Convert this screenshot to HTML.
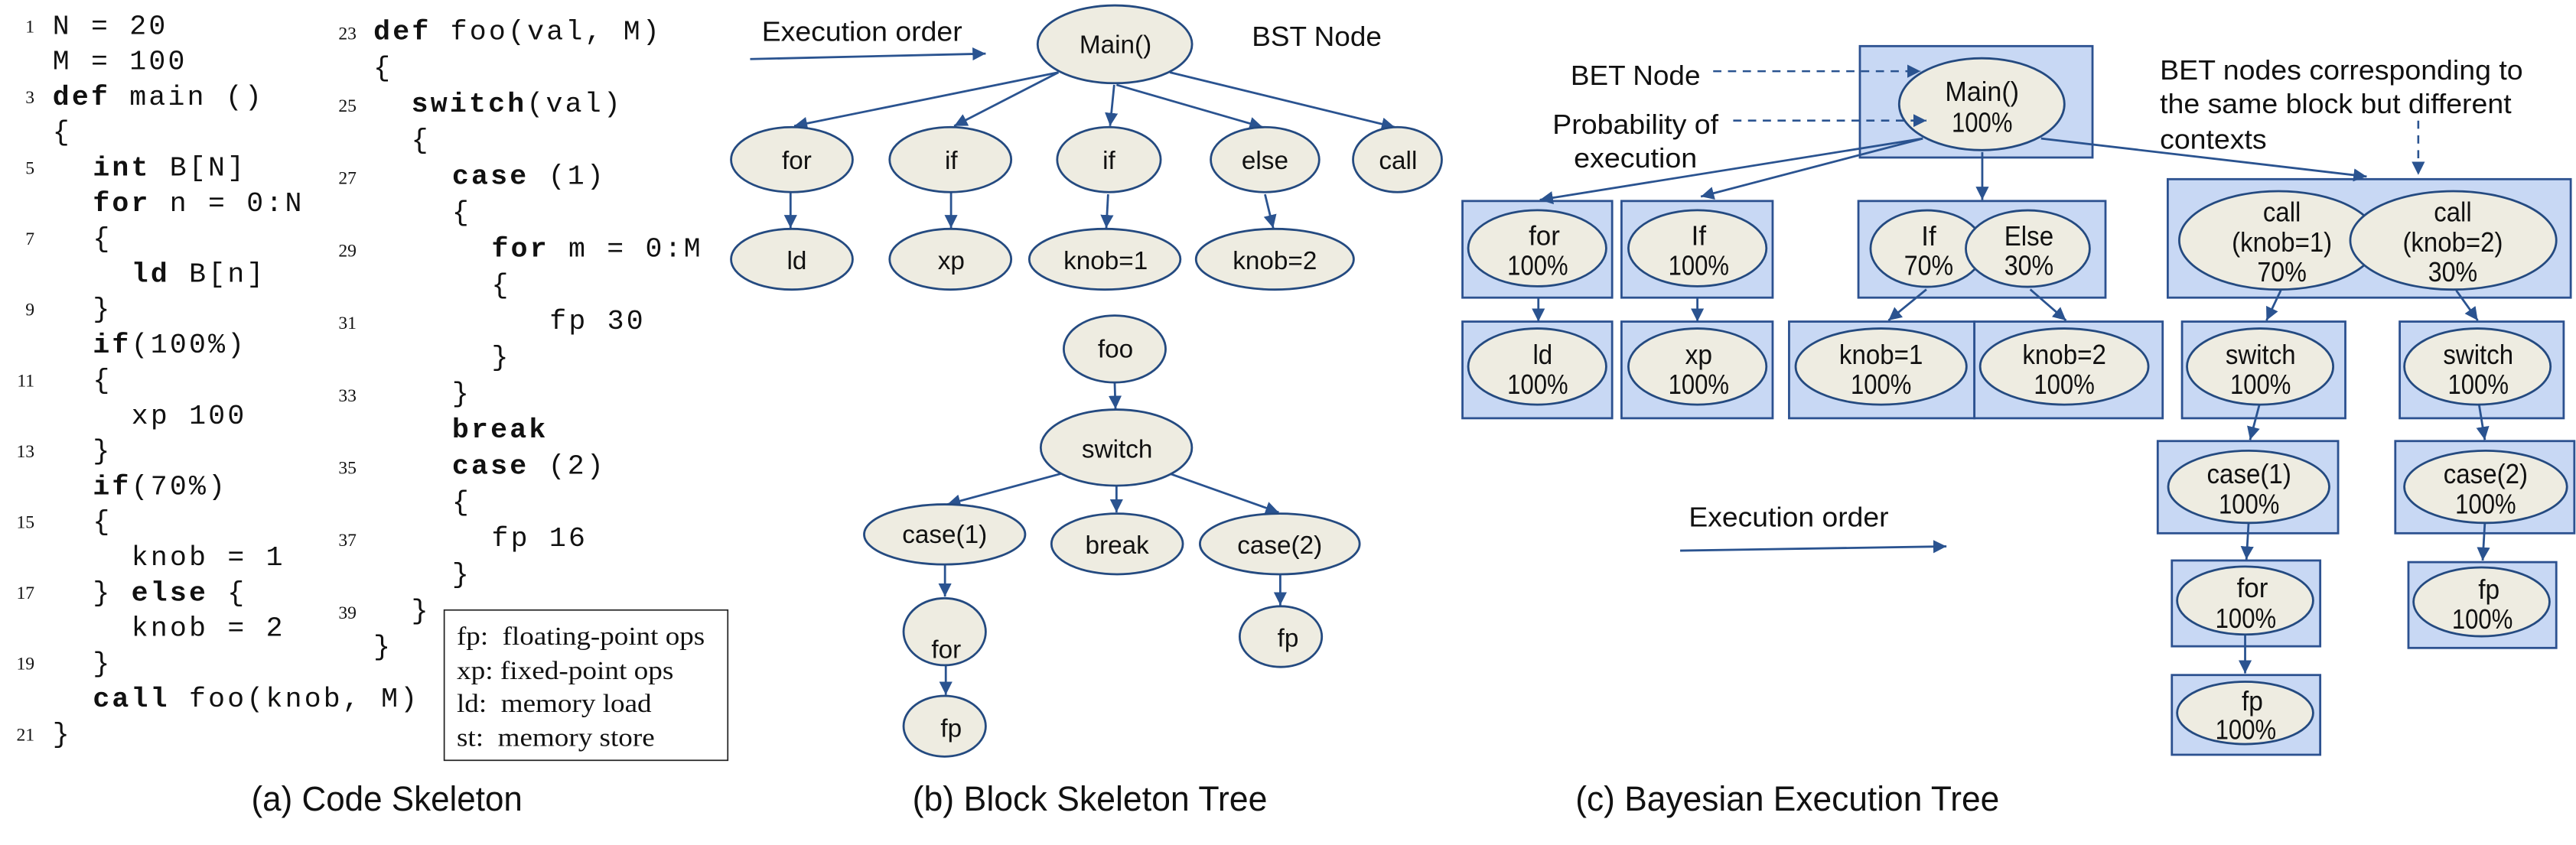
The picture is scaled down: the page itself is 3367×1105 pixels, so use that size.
<!DOCTYPE html>
<html><head><meta charset="utf-8"><style>
html,body{margin:0;padding:0;background:#fff;}
svg{display:block;}
.c{font-family:"Liberation Mono",monospace;font-size:17px;letter-spacing:1.5px;fill:#111;white-space:pre;}
.b{font-weight:bold;}
.n{font-family:"Liberation Serif",serif;font-size:11px;fill:#111;text-anchor:end;}
.lg{font-family:"Liberation Serif",serif;font-size:16px;fill:#111;white-space:pre;}
.cap{font-family:"Liberation Sans",sans-serif;font-size:21px;fill:#111;}
.t{font-family:"Liberation Sans",sans-serif;font-size:15.5px;fill:#111;text-anchor:middle;}
.q{font-family:"Liberation Sans",sans-serif;font-size:17px;fill:#111;text-anchor:middle;}
.ql{font-family:"Liberation Sans",sans-serif;font-size:17px;fill:#111;}
.e{fill:#eeece1;stroke:#244a80;stroke-width:1.3;}
.bx{fill:#c8d8f4;stroke:#2c5190;stroke-width:1.3;}
.a{stroke:#2a5390;stroke-width:1.3;fill:none;marker-end:url(#ah);}
.d{stroke:#2a5390;stroke-width:1.2;fill:none;stroke-dasharray:5 4;marker-end:url(#ah);}
</style></head><body>
<svg width="3367" height="1105" viewBox="0 0 1568 515" preserveAspectRatio="none" xmlns="http://www.w3.org/2000/svg">
<defs><marker id="ah" markerUnits="userSpaceOnUse" markerWidth="10" markerHeight="10" refX="8" refY="4" orient="auto"><path d="M0,0 L8,4 L0,8 Z" fill="#2a5390"/></marker></defs>

<!-- Code col 1 -->
<text class="n" x="21" y="19.7">1</text><text class="c" x="32" y="20.7">N = 20</text>
<text class="c" x="32" y="42.3">M = 100</text>
<text class="n" x="21" y="62.9">3</text><text class="c" x="32" y="63.9"><tspan class="b">def</tspan> main ()</text>
<text class="c" x="32" y="85.4">{</text>
<text class="n" x="21" y="106">5</text><text class="c" x="56.5" y="107"><tspan class="b">int</tspan> B[N]</text>
<text class="c" x="56.5" y="128.6"><tspan class="b">for</tspan> n = 0:N</text>
<text class="n" x="21" y="149.2">7</text><text class="c" x="56.5" y="150.2">{</text>
<text class="c" x="80" y="171.8"><tspan class="b">ld</tspan> B[n]</text>
<text class="n" x="21" y="192.3">9</text><text class="c" x="56.5" y="193.3">}</text>
<text class="c" x="56.5" y="214.9"><tspan class="b">if</tspan>(100%)</text>
<text class="n" x="21" y="235.5">11</text><text class="c" x="56.5" y="236.5">{</text>
<text class="c" x="80" y="258.1">xp 100</text>
<text class="n" x="21" y="278.7">13</text><text class="c" x="56.5" y="279.7">}</text>
<text class="c" x="56.5" y="301.2"><tspan class="b">if</tspan>(70%)</text>
<text class="n" x="21" y="321.8">15</text><text class="c" x="56.5" y="322.8">{</text>
<text class="c" x="80" y="344.4">knob = 1</text>
<text class="n" x="21" y="365">17</text><text class="c" x="56.5" y="366">} <tspan class="b">else</tspan> {</text>
<text class="c" x="80" y="387.6">knob = 2</text>
<text class="n" x="21" y="408.1">19</text><text class="c" x="56.5" y="409.1">}</text>
<text class="c" x="56.5" y="430.7"><tspan class="b">call</tspan> foo(knob, M)</text>
<text class="n" x="21" y="451.3">21</text><text class="c" x="32" y="452.3">}</text>

<!-- Code col 2 -->
<text class="n" x="217" y="24">23</text><text class="c" x="227.3" y="24"><tspan class="b">def</tspan> foo(val, M)</text>
<text class="c" x="227.3" y="46.1">{</text>
<text class="n" x="217" y="68.1">25</text><text class="c" x="250.4" y="68.1"><tspan class="b">switch</tspan>(val)</text>
<text class="c" x="250.4" y="90.2">{</text>
<text class="n" x="217" y="112.2">27</text><text class="c" x="275.2" y="112.2"><tspan class="b">case</tspan> (1)</text>
<text class="c" x="275.2" y="134.3">{</text>
<text class="n" x="217" y="156.4">29</text><text class="c" x="299.2" y="156.4"><tspan class="b">for</tspan> m = 0:M</text>
<text class="c" x="299.2" y="178.4">{</text>
<text class="n" x="217" y="200.5">31</text><text class="c" x="334.5" y="200.5">fp 30</text>
<text class="c" x="299.2" y="222.5">}</text>
<text class="n" x="217" y="244.6">33</text><text class="c" x="275.2" y="244.6">}</text>
<text class="c" x="275.2" y="266.7"><tspan class="b">break</tspan></text>
<text class="n" x="217" y="288.7">35</text><text class="c" x="275.2" y="288.7"><tspan class="b">case</tspan> (2)</text>
<text class="c" x="275.2" y="310.8">{</text>
<text class="n" x="217" y="332.8">37</text><text class="c" x="299.2" y="332.8">fp 16</text>
<text class="c" x="275.2" y="354.9">}</text>
<text class="n" x="217" y="377">39</text><text class="c" x="250.4" y="377">}</text>
<text class="c" x="227.3" y="399">}</text>

<!-- Legend -->
<rect x="270.4" y="371.8" width="172.6" height="91.6" fill="none" stroke="#222" stroke-width="0.8"/>
<text class="lg" x="278" y="393" textLength="151" lengthAdjust="spacingAndGlyphs">fp:  floating-point ops</text>
<text class="lg" x="278" y="413.8" textLength="132" lengthAdjust="spacingAndGlyphs">xp: fixed-point ops</text>
<text class="lg" x="278" y="434" textLength="118.6" lengthAdjust="spacingAndGlyphs">ld:  memory load</text>
<text class="lg" x="278" y="454.6" textLength="120.5" lengthAdjust="spacingAndGlyphs">st:  memory store</text>

<!-- Captions -->
<text class="cap" x="153" y="494" textLength="165" lengthAdjust="spacingAndGlyphs">(a) Code Skeleton</text>
<text class="cap" x="555.4" y="494" textLength="216" lengthAdjust="spacingAndGlyphs">(b) Block Skeleton Tree</text>
<text class="cap" x="959" y="494" textLength="258" lengthAdjust="spacingAndGlyphs">(c) Bayesian Execution Tree</text>

<!-- BST -->
<text class="ql" x="463.7" y="25" textLength="122" lengthAdjust="spacingAndGlyphs">Execution order</text>
<path class="a" d="M456.6,36 L600,32.7"/>
<text class="ql" x="762" y="28" textLength="79" lengthAdjust="spacingAndGlyphs">BST Node</text>

<path class="a" d="M644.3,44.1 L483.4,76.8"/>
<path class="a" d="M644.3,44.1 L580.8,76.8"/>
<path class="a" d="M678.2,51.7 L675.7,76.8"/>
<path class="a" d="M679.6,51.7 L768.6,77.5"/>
<path class="a" d="M712.1,44.1 L849,77.5"/>
<path class="a" d="M481.2,117.7 L481.2,139"/>
<path class="a" d="M578.9,117 L578.9,139"/>
<path class="a" d="M674.5,118.4 L673.4,139"/>
<path class="a" d="M770,118.4 L775,139"/>
<path class="a" d="M678.5,233 L679,249.2"/>
<path class="a" d="M645.8,288.7 L576.6,307.4"/>
<path class="a" d="M679.6,296 L679.6,312.3"/>
<path class="a" d="M712.1,288.7 L778.4,312.3"/>
<path class="a" d="M575.2,343.4 L575.2,363.6"/>
<path class="a" d="M575.7,405.5 L575.7,423.5"/>
<path class="a" d="M779.3,350.5 L779.3,368.9"/>

<ellipse class="e" cx="678.6" cy="27" rx="47" ry="23.7"/><text class="t" x="679" y="32.5">Main()</text>
<ellipse class="e" cx="482" cy="97.3" rx="37" ry="19.8"/><text class="t" x="485" y="103">for</text>
<ellipse class="e" cx="578.5" cy="97.3" rx="37" ry="19.8"/><text class="t" x="579" y="103">if</text>
<ellipse class="e" cx="675" cy="97.3" rx="31.5" ry="19.8"/><text class="t" x="675" y="103">if</text>
<ellipse class="e" cx="770" cy="97.3" rx="33" ry="19.8"/><text class="t" x="770" y="103">else</text>
<ellipse class="e" cx="850.6" cy="97.3" rx="27" ry="19.8"/><text class="t" x="851" y="103">call</text>
<ellipse class="e" cx="482" cy="158" rx="37" ry="18.5"/><text class="t" x="485" y="164">ld</text>
<ellipse class="e" cx="578.5" cy="158" rx="37" ry="18.5"/><text class="t" x="579" y="164">xp</text>
<ellipse class="e" cx="672.5" cy="158" rx="46" ry="18.5"/><text class="t" x="673" y="164">knob=1</text>
<ellipse class="e" cx="776" cy="158" rx="48" ry="18.5"/><text class="t" x="776" y="164">knob=2</text>
<ellipse class="e" cx="678.5" cy="212.7" rx="31" ry="20.4"/><text class="t" x="679" y="218">foo</text>
<ellipse class="e" cx="679.5" cy="272.8" rx="46" ry="23.2"/><text class="t" x="680" y="279">switch</text>
<ellipse class="e" cx="575" cy="325.7" rx="49" ry="18.3"/><text class="t" x="575" y="331">case(1)</text>
<ellipse class="e" cx="680" cy="331.5" rx="40" ry="18.5"/><text class="t" x="680" y="337.5">break</text>
<ellipse class="e" cx="779" cy="331.5" rx="48.6" ry="18.5"/><text class="t" x="779" y="337.5">case(2)</text>
<ellipse class="e" cx="575" cy="385" rx="25" ry="20.4"/><text class="t" x="576" y="401">for</text>
<ellipse class="e" cx="575" cy="442.6" rx="25" ry="18.5"/><text class="t" x="579" y="449">fp</text>
<ellipse class="e" cx="779.6" cy="388" rx="25" ry="18.5"/><text class="t" x="784" y="394">fp</text>

<!-- BET -->
<rect class="bx" x="1132.1" y="28.1" width="141.6" height="67.9"/>
<rect class="bx" x="890.2" y="122.5" width="91.1" height="58.9"/>
<rect class="bx" x="987" y="122.5" width="92" height="58.9"/>
<rect class="bx" x="1131.2" y="122.5" width="150.4" height="58.9"/>
<rect class="bx" x="1319.5" y="109.2" width="245.3" height="72.2"/>
<rect class="bx" x="890.2" y="196" width="91.1" height="58.9"/>
<rect class="bx" x="987" y="196" width="92" height="58.9"/>
<rect class="bx" x="1089" y="196" width="112.8" height="58.9"/>
<rect class="bx" x="1201.8" y="196" width="114.6" height="58.9"/>
<rect class="bx" x="1328.2" y="196" width="99.4" height="58.9"/>
<rect class="bx" x="1460.7" y="196" width="99.8" height="58.9"/>
<rect class="bx" x="1313.4" y="268.8" width="109.8" height="56.2"/>
<rect class="bx" x="1458" y="268.8" width="109" height="56.2"/>
<rect class="bx" x="1322" y="341.6" width="90.3" height="52.3"/>
<rect class="bx" x="1466" y="342.6" width="90" height="52.3"/>
<rect class="bx" x="1322" y="411.4" width="90.3" height="48.6"/>

<path class="a" d="M1170.4,84.4 L937.3,121.8"/>
<path class="a" d="M1170.4,84.4 L1035.3,119.8"/>
<path class="a" d="M1206.6,92.7 L1206.6,121.8"/>
<path class="a" d="M1242.4,84.4 L1440.6,107.6"/>
<path class="a" d="M936.4,181.4 L936.4,196"/>
<path class="a" d="M1033.2,181.4 L1033.2,196"/>
<path class="a" d="M1172.6,176.4 L1149.5,195.3"/>
<path class="a" d="M1235.8,176.4 L1257.6,195.3"/>
<path class="a" d="M1388.3,177 L1379.6,195.3"/>
<path class="a" d="M1495.1,177 L1508.2,195.3"/>
<path class="a" d="M1375.3,246.6 L1369.6,268.1"/>
<path class="a" d="M1509,246.6 L1512.5,268.1"/>
<path class="a" d="M1368.7,318.8 L1367.4,341"/>
<path class="a" d="M1512.5,318.8 L1511.2,341.6"/>
<path class="a" d="M1366.6,386.6 L1366.6,410.4"/>

<ellipse class="e" cx="1206.3" cy="63.5" rx="50.3" ry="28"/>
<text class="q" x="1206.5" y="61.6" textLength="45" lengthAdjust="spacingAndGlyphs">Main()</text>
<text class="q" x="1206.5" y="80.5" textLength="37" lengthAdjust="spacingAndGlyphs">100%</text>

<ellipse class="e" cx="935.7" cy="151.3" rx="42" ry="23.2"/>
<text class="q" x="940" y="149.3" textLength="19" lengthAdjust="spacingAndGlyphs">for</text>
<text class="q" x="936" y="167.5" textLength="37" lengthAdjust="spacingAndGlyphs">100%</text>
<ellipse class="e" cx="1033.2" cy="151.3" rx="42" ry="23.2"/>
<text class="q" x="1034" y="149.3" textLength="9" lengthAdjust="spacingAndGlyphs">If</text>
<text class="q" x="1034" y="167.5" textLength="37" lengthAdjust="spacingAndGlyphs">100%</text>

<ellipse class="e" cx="1173" cy="151.5" rx="34.4" ry="23.3"/>
<ellipse class="e" cx="1234.3" cy="151.5" rx="37.7" ry="23.3"/>
<text class="q" x="1174" y="149.5" textLength="9" lengthAdjust="spacingAndGlyphs">If</text>
<text class="q" x="1174" y="167.5" textLength="30" lengthAdjust="spacingAndGlyphs">70%</text>
<text class="q" x="1235" y="149.5" textLength="30" lengthAdjust="spacingAndGlyphs">Else</text>
<text class="q" x="1235" y="167.5" textLength="30" lengthAdjust="spacingAndGlyphs">30%</text>

<ellipse class="e" cx="1386.9" cy="146.5" rx="60.4" ry="30"/>
<ellipse class="e" cx="1493.3" cy="146.5" rx="62.7" ry="30"/>
<text class="q" x="1389" y="135" textLength="23" lengthAdjust="spacingAndGlyphs">call</text>
<text class="q" x="1389" y="153.3" textLength="61" lengthAdjust="spacingAndGlyphs">(knob=1)</text>
<text class="q" x="1389" y="171.5" textLength="30" lengthAdjust="spacingAndGlyphs">70%</text>
<text class="q" x="1493" y="135" textLength="23" lengthAdjust="spacingAndGlyphs">call</text>
<text class="q" x="1493" y="153.3" textLength="61" lengthAdjust="spacingAndGlyphs">(knob=2)</text>
<text class="q" x="1493" y="171.5" textLength="30" lengthAdjust="spacingAndGlyphs">30%</text>

<ellipse class="e" cx="935.7" cy="223.4" rx="42" ry="23.2"/>
<text class="q" x="939" y="221.8" textLength="12" lengthAdjust="spacingAndGlyphs">ld</text>
<text class="q" x="936" y="240" textLength="37" lengthAdjust="spacingAndGlyphs">100%</text>
<ellipse class="e" cx="1033.2" cy="223.4" rx="42" ry="23.2"/>
<text class="q" x="1034" y="221.8" textLength="16.5" lengthAdjust="spacingAndGlyphs">xp</text>
<text class="q" x="1034" y="240" textLength="37" lengthAdjust="spacingAndGlyphs">100%</text>
<ellipse class="e" cx="1145" cy="223.4" rx="52" ry="23.2"/>
<text class="q" x="1145" y="221.8" textLength="51" lengthAdjust="spacingAndGlyphs">knob=1</text>
<text class="q" x="1145" y="240" textLength="37" lengthAdjust="spacingAndGlyphs">100%</text>
<ellipse class="e" cx="1256.5" cy="223.4" rx="51.2" ry="23.2"/>
<text class="q" x="1256.5" y="221.8" textLength="51" lengthAdjust="spacingAndGlyphs">knob=2</text>
<text class="q" x="1256.5" y="240" textLength="37" lengthAdjust="spacingAndGlyphs">100%</text>
<ellipse class="e" cx="1375.7" cy="223.4" rx="44.5" ry="23.2"/>
<text class="q" x="1376" y="221.8" textLength="42.7" lengthAdjust="spacingAndGlyphs">switch</text>
<text class="q" x="1376" y="240" textLength="37" lengthAdjust="spacingAndGlyphs">100%</text>
<ellipse class="e" cx="1508" cy="223.4" rx="44.5" ry="23.2"/>
<text class="q" x="1508.5" y="221.8" textLength="42.7" lengthAdjust="spacingAndGlyphs">switch</text>
<text class="q" x="1508.5" y="240" textLength="37" lengthAdjust="spacingAndGlyphs">100%</text>

<ellipse class="e" cx="1368.8" cy="296.7" rx="49" ry="22"/>
<text class="q" x="1369" y="294.6" textLength="51.4" lengthAdjust="spacingAndGlyphs">case(1)</text>
<text class="q" x="1369" y="313" textLength="37" lengthAdjust="spacingAndGlyphs">100%</text>
<ellipse class="e" cx="1513" cy="296.7" rx="49.5" ry="22"/>
<text class="q" x="1513" y="294.6" textLength="51.4" lengthAdjust="spacingAndGlyphs">case(2)</text>
<text class="q" x="1513" y="313" textLength="37" lengthAdjust="spacingAndGlyphs">100%</text>

<ellipse class="e" cx="1366.6" cy="366" rx="41.4" ry="20.7"/>
<text class="q" x="1371" y="364" textLength="19" lengthAdjust="spacingAndGlyphs">for</text>
<text class="q" x="1367" y="382.7" textLength="37" lengthAdjust="spacingAndGlyphs">100%</text>
<ellipse class="e" cx="1510.5" cy="366.8" rx="41.4" ry="21"/>
<text class="q" x="1515" y="365" textLength="13" lengthAdjust="spacingAndGlyphs">fp</text>
<text class="q" x="1511" y="383" textLength="37" lengthAdjust="spacingAndGlyphs">100%</text>
<ellipse class="e" cx="1366.6" cy="434.5" rx="41.4" ry="19"/>
<text class="q" x="1371" y="433" textLength="13" lengthAdjust="spacingAndGlyphs">fp</text>
<text class="q" x="1367" y="450.5" textLength="37" lengthAdjust="spacingAndGlyphs">100%</text>

<text class="ql" x="956" y="51.7" textLength="79" lengthAdjust="spacingAndGlyphs">BET Node</text>
<path class="d" d="M1042.8,43.4 L1169,43.4"/>
<text class="ql" x="945" y="81.5" textLength="101" lengthAdjust="spacingAndGlyphs">Probability of</text>
<text class="ql" x="958" y="102" textLength="75" lengthAdjust="spacingAndGlyphs">execution</text>
<path class="d" d="M1055,73.5 L1172.6,73.5"/>
<text class="ql" x="1314.7" y="48.4" textLength="221" lengthAdjust="spacingAndGlyphs">BET nodes corresponding to</text>
<text class="ql" x="1314.7" y="68.9" textLength="214" lengthAdjust="spacingAndGlyphs">the same block but different</text>
<text class="ql" x="1314.7" y="90.7" textLength="65" lengthAdjust="spacingAndGlyphs">contexts</text>
<path class="d" d="M1472,73.5 L1472,106.6"/>
<text class="ql" x="1028" y="321" textLength="121.6" lengthAdjust="spacingAndGlyphs">Execution order</text>
<path class="a" d="M1022.7,335.6 L1184.8,333"/>
</svg>
</body></html>
